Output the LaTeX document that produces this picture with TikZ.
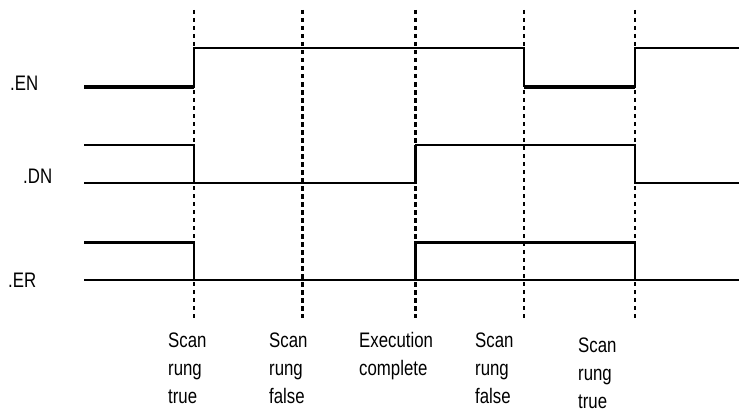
\documentclass[tikz,border=0pt]{standalone}
\usepackage{fontspec}
\setmainfont[FakeStretch=0.8]{Liberation Sans}
\begin{document}
\begin{tikzpicture}[x=1pt,y=-1pt,
  sig/.style={line width=1.4pt},
  sigthick/.style={line width=3pt},
  thindash/.style={line width=1.3pt,dash pattern=on 4pt off 4pt},
  thickdash/.style={line width=3pt,dash pattern=on 4.5pt off 3.5pt},
  lbl/.style={anchor=base west,inner sep=0pt,font=\fontsize{21}{28}\selectfont,align=left}]
\useasboundingbox (0,0) rectangle (739,412);
% vertical markers
\draw[thindash] (194,10) -- (194,318);
\draw[thickdash] (302,10) -- (302,318);
\draw[thickdash] (415,10) -- (415,318);
\draw[thindash] (524,10) -- (524,318);
\draw[thindash] (635,10) -- (635,318);
% .EN
\draw[sigthick] (84,87) -- (194,87);
\draw[sig] (194,88) -- (194,48) -- (524,48) -- (524,87);
\draw[sigthick] (524,87) -- (635,87);
\draw[sig] (635,88) -- (635,48) -- (739,48);
% .DN
\draw[sig] (84,145) -- (194,145) -- (194,183);
\draw[sig] (84,183) -- (415,183);
\draw[sigthick] (415,184) -- (415,145);
\draw[sig] (415,145) -- (635,145) -- (635,183) -- (739,183);
% .ER
\draw[sigthick] (84,242) -- (194,242);
\draw[sig] (194,241) -- (194,280);
\draw[sig] (84,280) -- (739,280);
\draw[sigthick] (415,281) -- (415,242) -- (635,242);
\draw[sig] (635,241) -- (635,280);
% labels
\node[lbl] (en) at (10,90) {.EN};
\node[lbl] (dn) at (23,183) {.DN};
\node[lbl] (er) at (8,287) {.ER};
\node[lbl] (t1) at (168,403) {Scan\\rung\\true};
\node[lbl] (t2) at (269,403) {Scan\\rung\\false};
\node[lbl] (t3) at (359,375) {Execution\\complete};
\node[lbl] (t4) at (475,403) {Scan\\rung\\false};
\node[lbl] (t5) at (578,408) {Scan\\rung\\true};
\end{tikzpicture}
\end{document}
